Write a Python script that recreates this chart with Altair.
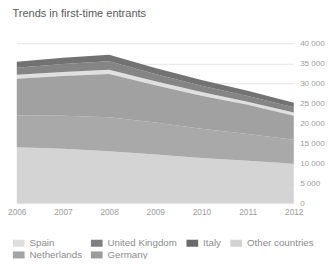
import altair as alt
import pandas as pd

years = [2006, 2007, 2008, 2009, 2010, 2011, 2012]
series = ["Spain", "United Kingdom", "Italy", "Other countries", "Netherlands", "Germany"]
stack_order = {"Other countries": 0, "Netherlands": 1, "Germany": 2, "Spain": 3, "United Kingdom": 4, "Italy": 5}
values = {
    "Other countries": [14000, 13600, 13000, 12200, 11300, 10600, 9900],
    "Netherlands": [8000, 8300, 8500, 8000, 7300, 6700, 6000],
    "Germany": [9100, 9900, 10800, 9300, 8300, 7300, 6000],
    "Spain": [1000, 1000, 1100, 1000, 900, 800, 800],
    "United Kingdom": [1800, 2000, 2100, 1800, 1600, 1400, 1300],
    "Italy": [1500, 1600, 1600, 1500, 1400, 1300, 1100],
}
colors = ["#dedede", "#7e7e7e", "#6a6a6a", "#d2d2d2", "#a4a4a4", "#9c9c9c"]
y_ticks = [0, 5000, 10000, 15000, 20000, 25000, 30000, 35000, 40000]

rows = []
for s in series:
    for y, v in zip(years, values[s]):
        rows.append({"year": y, "country": s, "value": v, "ord": stack_order[s]})
df = pd.DataFrame(rows)

lab = "#9c9c9c"
chart = alt.Chart(df).mark_area(opacity=0.95).encode(
    x=alt.X("year:Q", scale=alt.Scale(domain=[2006, 2012], nice=False),
            axis=alt.Axis(values=years, format="d", title=None, grid=False, domain=False,
                          ticks=False, labelColor=lab, labelFontSize=8.5, labelPadding=5,
                          labelFlush=False, labelFont="Liberation Sans")),
    y=alt.Y("value:Q", stack="zero", scale=alt.Scale(domain=[0, 40000], nice=False),
            axis=alt.Axis(orient="right", values=y_ticks,
                          labelExpr="replace(format(datum.value, ','), ',', ' ')",
                          title=None, domain=False, ticks=False, gridColor="#e4e4e4",
                          labelColor=lab, labelFontSize=8.3, labelPadding=6,
                          labelFont="Liberation Sans")),
    color=alt.Color("country:N", scale=alt.Scale(domain=series, range=colors),
                    legend=alt.Legend(orient="none", legendX=-4, legendY=199,
                                      direction="horizontal", columns=4, gridAlign="none",
                                      title=None,
                                      symbolType="M-1,-0.6H1V0.6H-1Z", symbolSize=144,
                                      symbolStrokeWidth=0, symbolOpacity=1,
                                      labelColor="#8c8c8c", labelFontSize=10,
                                      labelFont="Liberation Sans", labelOffset=5,
                                      columnPadding=9, rowPadding=1)),
    order=alt.Order("ord:Q"),
).properties(
    width=284, height=164,
    autosize=alt.AutoSizeParams(type="none"),
    padding={"left": 9, "right": 32, "top": 33, "bottom": 54},
    title=alt.TitleParams("Trends in first-time entrants", anchor="start", fontSize=11.3,
                          fontWeight="normal", color="#5a5a5a", font="Liberation Sans", offset=20,
                          dx=5),
).configure_view(stroke=None)

chart.save("out.html", embed_options={"renderer": "svg", "actions": False})
